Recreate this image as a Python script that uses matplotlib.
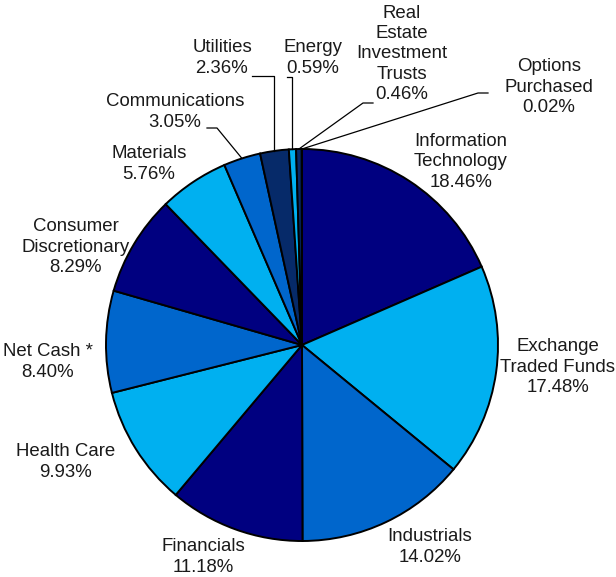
import numpy as np
import matplotlib
matplotlib.use("Agg")
import matplotlib.pyplot as plt

categories = ["Information\nTechnology", "Exchange\nTraded Funds", "Industrials", "Financials",
              "Health Care", "Net Cash *", "Consumer\nDiscretionary", "Materials",
              "Communications", "Utilities", "Energy", "Real\nEstate\nInvestment\nTrusts",
              "Options\nPurchased"]
values = [18.46, 17.48, 14.02, 11.18, 9.93, 8.40, 8.29, 5.76, 3.05, 2.36, 0.59, 0.46, 0.02]

NAVY = "#000080"
LIGHT = "#00b0f0"
MED = "#0066cc"
DARK = "#062a69"
colors = [NAVY, LIGHT, MED, NAVY, LIGHT, MED, NAVY, LIGHT, MED, DARK, LIGHT, DARK, LIGHT]

W, H = 616, 577
fig = plt.figure(figsize=(W / 100, H / 100), dpi=100)
ax = fig.add_axes([0, 0, 1, 1])

cx, cy, R = 302, H - 345, 196
wedges, _ = ax.pie(values, colors=colors, startangle=90, counterclock=False,
                   center=(cx, cy), radius=R,
                   wedgeprops=dict(edgecolor="black", linewidth=1.4))
ax.set_xlim(0, W)
ax.set_ylim(0, H)
ax.set_aspect("equal")
ax.axis("off")

plt.rcParams["font.family"] = ["Liberation Sans", "DejaVu Sans"]
fs = 13.4

# label text positions (pixel coords from top)
label_pos = {
    0: (461, 162), 1: (558, 367), 2: (430, 547), 3: (203, 557),
    4: (66, 462), 5: (48, 362), 6: (76, 247), 7: (149, 164),
    8: (175, 112), 9: (222, 58), 10: (313, 58), 11: (402, 54), 12: (549, 87),
}
# leader lines: (style, elbow y, end x)
leaders = {
    8: ("diag", (217, 128), 207),
    9: ("vert", 76, 252),
    10: ("vert", 77, 287),
    11: ("diag", (363, 103), 373),
    12: ("diag", (478, 93), 488),
}

for i, (cat, v) in enumerate(zip(categories, values)):
    x, y = label_pos[i]
    ax.text(x, H - y, f"{cat}\n{v:.2f}%", ha="center", va="center",
            fontsize=fs, color="#1a1a1a", linespacing=1.24)
    if i in leaders:
        w = wedges[i]
        th = np.deg2rad((w.theta1 + w.theta2) / 2)
        sx, sy = cx + R * np.cos(th), cy + R * np.sin(th)
        style, elbow, endx = leaders[i]
        if style == "vert":
            pts = [(sx, sy), (sx, H - elbow), (endx, H - elbow)]
        else:
            pts = [(sx, sy), (elbow[0], H - elbow[1]), (endx, H - elbow[1])]
        ax.plot([p[0] for p in pts], [p[1] for p in pts], color="black", lw=0.9)

fig.savefig("out.png", dpi=100, facecolor="white")
